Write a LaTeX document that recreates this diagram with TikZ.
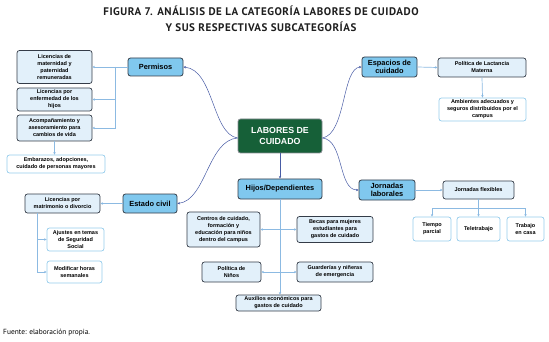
\documentclass[tikz,border=0pt]{standalone}
\usepackage{fontspec}
\setmainfont{Liberation Sans}
\newfontfamily\titlefont[LetterSpace=5]{PT Sans}
\newfontfamily\notefont{PT Sans}
\usetikzlibrary{arrows.meta,positioning,calc}
\definecolor{ink}{RGB}{52,60,72}
\definecolor{sky}{RGB}{128,200,238}
\definecolor{pale}{RGB}{226,240,250}
\definecolor{leafline}{RGB}{150,204,236}
\definecolor{forest}{RGB}{22,96,56}
\definecolor{mainlink}{RGB}{72,92,165}
\definecolor{sublink}{RGB}{140,186,226}
\definecolor{titlegray}{RGB}{30,30,30}
\tikzset{
  box/.style={rounded corners=2.5pt,align=center,inner sep=1pt,
    font=\bfseries\fontsize{5.5}{7}\selectfont},
  cat/.style={box,draw=ink,fill=sky,line width=0.8pt,
    font=\bfseries\fontsize{7.4}{8.4}\selectfont},
  sub/.style={box,draw=ink,fill=pale,line width=0.7pt},
  leaf/.style={box,draw=leafline,fill=white,line width=0.7pt},
  core/.style={box,draw=ink!60,fill=forest,text=white,line width=0.8pt,
    font=\bfseries\fontsize{8.8}{11.5}\selectfont},
  main/.style={mainlink,line width=0.5pt,-{Stealth[length=2.6pt,width=2.4pt]}},
  link/.style={sublink,line width=0.7pt,-{Stealth[length=2.6pt,width=2.4pt]}}
}

\begin{document}
\begin{tikzpicture}[x=1pt,y=-1pt]
  \useasboundingbox (0,0) rectangle (549,342);
  % title
  \node[font=\titlefont\bfseries\fontsize{11}{15.5}\selectfont,text=titlegray,align=center]
    (title) at (261,19) {FIGURA 7. ANÁLISIS DE LA CATEGORÍA LABORES DE CUIDADO\\Y SUS RESPECTIVAS SUBCATEGORÍAS};
  % centre
  \node[core,minimum width=84,minimum height=34] (centre) at (280,136) {LABORES DE\\CUIDADO};
  % categories
  \node[cat,minimum width=55,minimum height=18] (perm) at (155.5,67) {Permisos};
  \node[cat,minimum width=54,minimum height=19] (ecivil) at (150,203.5) {Estado civil};
  \node[cat,minimum width=84,minimum height=20] (hijos) at (280,189) {Hijos/Dependientes};
  \node[cat,minimum width=55,minimum height=20] (espac) at (389.5,67) {Espacios de\\cuidado};
  \node[cat,minimum width=56,minimum height=20] (jorn) at (387,190) {Jornadas\\laborales};
  % permisos
  \node[sub,minimum width=75,minimum height=33] (lmat) at (54.5,67) {Licencias de\\maternidad y\\paternidad\\remuneradas};
  \node[sub,minimum width=75,minimum height=23] (lenf) at (54.5,99.5) {Licencias por\\enfermedad de los\\hijos};
  \node[sub,minimum width=75,minimum height=26] (acomp) at (54.5,128) {Acompañamiento y\\asesoramiento para\\cambios de vida};
  \node[leaf,minimum width=98,minimum height=18] (emb) at (56,164) {Embarazos, adopciones,\\cuidado de personas mayores};
  % estado civil
  \node[sub,minimum width=75,minimum height=19] (lmatr) at (62.5,203.5) {Licencias por\\matrimonio o divorcio};
  \node[leaf,minimum width=57,minimum height=23] (ajus) at (75.5,239.5) {Ajustes en temas\\de Seguridad\\Social};
  \node[leaf,minimum width=55,minimum height=22] (modif) at (74.5,272) {Modificar horas\\semanales};
  % hijos
  \node[sub,minimum width=73,minimum height=35] (centros) at (223.5,229.5) {Centros de cuidado,\\formación y\\educación para niños\\dentro del campus};
  \node[sub,minimum width=76,minimum height=26] (becas) at (335,229.5) {Becas para mujeres\\estudiantes para\\gastos de cuidado};
  \node[sub,minimum width=59,minimum height=20] (polninos) at (231.5,272) {Política de\\Niños};
  \node[sub,minimum width=76,minimum height=20] (guard) at (335,272) {Guarderías y niñeras\\de emergencia};
  \node[sub,minimum width=85,minimum height=16] (aux) at (278.5,303) {Auxilios económicos para\\gastos de cuidado};
  % espacios
  \node[sub,minimum width=88,minimum height=19] (lact) at (482,67.5) {Política de Lactancia\\Materna};
  \node[leaf,minimum width=87,minimum height=23] (amb) at (482.5,109.5) {Ambientes adecuados y\\seguros distribuidos por el\\campus};
  % jornadas
  \node[sub,minimum width=71,minimum height=18] (flex) at (478.5,190) {Jornadas flexibles};
  \node[leaf,minimum width=38,minimum height=24] (tparc) at (432,229) {Tiempo\\parcial};
  \node[leaf,minimum width=43,minimum height=24] (tele) at (478.5,229) {Teletrabajo};
  \node[leaf,minimum width=37,minimum height=24] (tcasa) at (525.5,229) {Trabajo\\en casa};
  % source
  \node[font=\notefont\fontsize{7.4}{9}\selectfont,anchor=west,inner sep=0pt] (fuente) at (3,333) {Fuente: elaboración propia.};

  % main curves
  \draw[main] ([yshift=-2pt]centre.west) .. controls (212,134) and (214,70) .. (perm.east);
  \draw[main] ([yshift=-2pt]centre.west) .. controls (208,140) and (206,200) .. (ecivil.east);
  \draw[main] ([yshift=-2pt]centre.east) .. controls (346,134) and (342,68) .. (espac.west);
  \draw[main] ([yshift=-2pt]centre.east) .. controls (344,140) and (338,190) .. (jorn.west);
  \draw[main] (centre.south) -- (hijos.north);
  % permisos links
  \coordinate (ptrunk) at (115,67);
  \draw[link] (perm.west) -- (lmat.east);
  \draw[link] (ptrunk) |- (lenf.east);
  \draw[link] (ptrunk) |- (acomp.east);
  \draw[link] (acomp.south) -- (acomp.south |- emb.north);
  % estado civil links
  \coordinate (etrunk) at (37,213);
  \draw[link] (ecivil.west) -- (lmatr.east);
  \draw[link] (etrunk) |- (ajus.west);
  \draw[link] (etrunk) |- (modif.west);
  % hijos links
  \draw[link] (hijos.south) -- (hijos.south |- aux.north);
  \draw[link] (hijos.south |- centros.east) -- (centros.east);
  \draw[link] (hijos.south |- becas.west) -- (becas.west);
  \draw[link] (hijos.south |- polninos.east) -- (polninos.east);
  \draw[link] (hijos.south |- guard.west) -- (guard.west);
  % espacios links
  \draw[link] (espac.east) -- (lact.west);
  \draw[link] (lact.south) -- (amb.north);
  % jornadas links
  \coordinate (fbar) at (478.5,208);
  \draw[link] (jorn.east) -- (flex.west);
  \draw[sublink,line width=0.7pt] (flex.south) -- (fbar);
  \draw[link] (fbar) -| (tparc.north);
  \draw[link] (fbar) -- (tele.north);
  \draw[link] (fbar) -| (tcasa.north);
\end{tikzpicture}
\end{document}
